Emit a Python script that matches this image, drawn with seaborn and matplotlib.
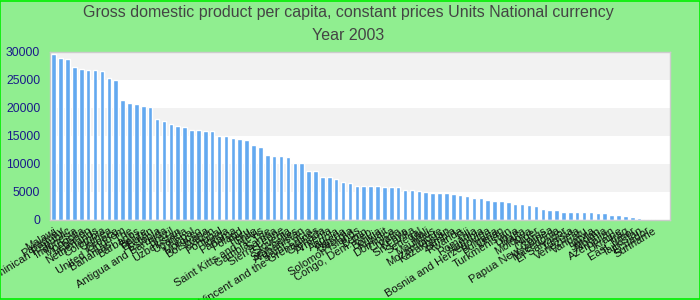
import matplotlib
matplotlib.use("Agg")
import matplotlib.pyplot as plt
import seaborn as sns
import pandas as pd
from matplotlib.patches import Rectangle

countries = [
    "Malawi", "Paraguay", "Dominican Republic", "Indonesia", "Mongolia", "Lebanon",
    "Netherlands", "Colombia", "Guinea", "Greece", "United Kingdom", "Bahamas, The",
    "Barbados", "Belize", "Bhutan", "Estonia", "Antigua and Barbuda", "Brazil",
    "Uzbekistan", "Uganda", "Nepal", "Morocco", "Botswana", "Gabon", "Portugal",
    "Tonga", "Panama", "Poland", "Peru", "Chile", "Saint Kitts and Nevis",
    "Gambia, The", "Samoa", "Sierra Leone", "Slovenia", "Seychelles", "Afghanistan",
    "Saint Lucia", "Saint Vincent and the Grenadines", "Grenada", "Armenia", "Angola",
    "Algeria", "Georgia", "Solomon Islands", "Benin", "Congo, Dem. Rep.", "Bolivia",
    "Kuwait", "Dominica", "Croatia", "Kenya", "Sri Lanka", "Senegal", "Mali",
    "Mauritius", "Mozambique", "Kazakhstan", "Zambia", "Rwanda", "Fiji", "Romania",
    "Namibia", "Bosnia and Herzegovina", "Bulgaria", "Oman", "Turkmenistan", "Libya",
    "Malta", "Moldova", "Niger", "Cyprus", "Papua New Guinea", "Macedonia",
    "El Salvador", "Tunisia", "Venezuela", "Vanuatu", "Latvia", "Jordan", "Albania",
    "Azerbaijan", "Ukraine", "Iraq", "East Timor", "Tajikistan", "Ecuador", "Suriname",
]

values = [
    29580, 28870, 28690, 27270, 26910, 26730, 26730, 26550, 25310, 24950,
    21390, 20850, 20670, 20320, 20140, 18000, 17640, 17110, 16750, 16570,
    16040, 16040, 15860, 15860, 14970, 14970, 14610, 14440, 14260, 13370,
    13010, 11580, 11410, 11410, 11230, 10160, 10160, 8730, 8730, 7660,
    7660, 7310, 6770, 6590, 6060, 6060, 6060, 6060, 5880, 5880,
    5880, 5350, 5350, 5170, 4990, 4810, 4810, 4810, 4630, 4460,
    4280, 3920, 3920, 3560, 3390, 3390, 3210, 2850, 2850, 2670,
    2500, 1960, 1780, 1780, 1430, 1430, 1430, 1430, 1430, 1250,
    1250, 890, 890, 710, 540, 360, 180, 180,
]

title_lines = ["Gross domestic product per capita, constant prices Units National currency", "Year 2003"]
y_ticks = [0, 5000, 10000, 15000, 20000, 25000, 30000]

df = pd.DataFrame({"country": countries, "value": values})

sns.set_theme(style="white")
plt.rcParams["font.family"] = ["Liberation Sans", "DejaVu Sans"]

fig = plt.figure(figsize=(7, 3), dpi=100)
fig.patch.set_facecolor("#90EE90")
ax = fig.add_axes([50 / 700, 80 / 300, 620 / 700, 168.3 / 300])
ax.set_facecolor("white")

# alternating bands
for i in range(len(y_ticks) - 1):
    if i % 2 == 1:
        ax.axhspan(y_ticks[i], y_ticks[i + 1], color="#F2F2F2", zorder=0, lw=0)

sns.barplot(data=df, x="country", y="value", color="#63A9F0", saturation=1,
            width=0.66, ax=ax, zorder=2)

ax.set_xlim(-0.54, 89.47)
ax.set_ylim(0, 30000)
ax.set_yticks(y_ticks)
ax.set_yticklabels([str(t) for t in y_ticks], color="#1a1a8a", fontsize=8.8)
ax.tick_params(axis="y", length=0, pad=7)
ax.tick_params(axis="x", length=0, pad=4)
ax.set_xticks(range(len(countries)))
ax.set_xticklabels(countries, rotation=32, ha="right", rotation_mode="anchor",
                   fontsize=8, color="#111111")
ax.set_xlabel("")
ax.set_ylabel("")
for s in ax.spines.values():
    s.set_color("#CCCCCC")
    s.set_linewidth(1)

fig.text(0.497, 1 - 13 / 300, title_lines[0], ha="center", va="center",
         fontsize=11.5, color="#444444")
fig.text(0.497, 1 - 36 / 300, title_lines[1], ha="center", va="center",
         fontsize=11.5, color="#444444")

fig.patches.append(Rectangle((0.0007, 0.0017), 0.9986, 0.9966, transform=fig.transFigure,
                             fill=False, edgecolor="#00EE00", linewidth=1.2))

fig.savefig("out.png", dpi=100, facecolor=fig.get_facecolor())
